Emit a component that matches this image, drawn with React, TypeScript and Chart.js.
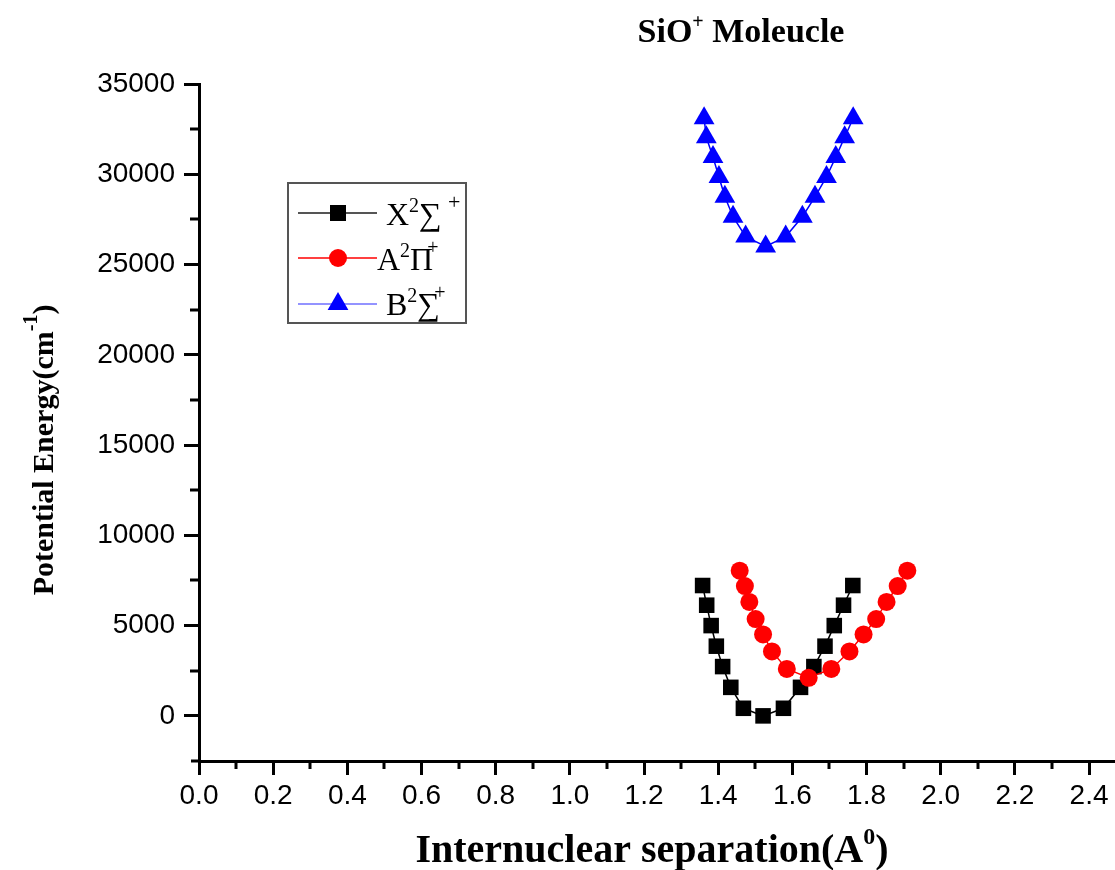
import React, { useEffect, useRef } from 'react';
import { Chart, registerables } from 'chart.js';

Chart.register(...registerables);

// X²Σ⁺ state
const xStateR = [1.358, 1.369, 1.381, 1.395, 1.412, 1.434, 1.468, 1.521, 1.576, 1.622, 1.658, 1.688, 1.713, 1.738, 1.763];
const xStateE = [7220, 6130, 5000, 3860, 2730, 1580, 420, 0, 420, 1580, 2730, 3860, 5000, 6130, 7220];
// A²Π⁺ state
const aStateR = [1.458, 1.472, 1.484, 1.501, 1.521, 1.545, 1.585, 1.644, 1.705, 1.754, 1.792, 1.826, 1.854, 1.884, 1.910];
const aStateE = [8040, 7190, 6310, 5360, 4510, 3570, 2600, 2110, 2600, 3570, 4510, 5360, 6310, 7190, 8040];
// B²Σ⁺ state
const bStateR = [1.362, 1.368, 1.386, 1.402, 1.418, 1.440, 1.474, 1.528, 1.582, 1.627, 1.661, 1.692, 1.717, 1.741, 1.764];
const bStateE = [33100, 32050, 30950, 29850, 28750, 27650, 26550, 26000, 26550, 27650, 28750, 29850, 30950, 32050, 33100];

const xMajorTicks = [0, 0.2, 0.4, 0.6, 0.8, 1.0, 1.2, 1.4, 1.6, 1.8, 2.0, 2.2, 2.4];
const xMinorTicks = [0.1, 0.3, 0.5, 0.7, 0.9, 1.1, 1.3, 1.5, 1.7, 1.9, 2.1, 2.3];
const yMajorTicks = [0, 5000, 10000, 15000, 20000, 25000, 30000, 35000];
const yMinorTicks = [2500, 7500, 12500, 17500, 22500, 27500, 32500];

const SERIF = '"Liberation Serif", "Times New Roman", serif';
const SANS = '"Liberation Sans", Arial, sans-serif';

type Part = { t: string; size: number; dy?: number; dx?: number; bold?: boolean };

function richWidth(ctx: CanvasRenderingContext2D, parts: Part[]) {
  let w = 0;
  for (const p of parts) {
    ctx.font = `${p.bold ? 'bold ' : ''}${p.size}px ${SERIF}`;
    w += ctx.measureText(p.t).width + (p.dx || 0);
  }
  return w;
}

function drawRich(ctx: CanvasRenderingContext2D, parts: Part[], x: number, y: number, align: 'left' | 'center') {
  let cx = align === 'center' ? x - richWidth(ctx, parts) / 2 : x;
  ctx.textAlign = 'left';
  ctx.textBaseline = 'alphabetic';
  for (const p of parts) {
    ctx.font = `${p.bold ? 'bold ' : ''}${p.size}px ${SERIF}`;
    cx += p.dx || 0;
    ctx.fillText(p.t, cx, y + (p.dy || 0));
    cx += ctx.measureText(p.t).width;
  }
}

const decorPlugin = {
  id: 'decor',
  afterDraw(chart: any) {
    const ctx: CanvasRenderingContext2D = chart.ctx;
    const xs = chart.scales.x;
    const ys = chart.scales.y;
    const area = chart.chartArea;
    ctx.save();
    ctx.fillStyle = '#000';
    ctx.strokeStyle = '#000';
    ctx.lineWidth = 3;
    ctx.beginPath();
    for (const v of xMinorTicks) {
      const px = Math.round(xs.getPixelForValue(v));
      ctx.moveTo(px, area.bottom);
      ctx.lineTo(px, area.bottom + 8);
    }
    for (const v of yMinorTicks) {
      const py = Math.round(ys.getPixelForValue(v));
      ctx.moveTo(area.left - 9, py);
      ctx.lineTo(area.left, py);
    }
    ctx.moveTo(area.left - 8, area.bottom);
    ctx.lineTo(area.left, area.bottom);
    ctx.stroke();

    drawRich(ctx, [
      { t: 'SiO', size: 34, bold: true },
      { t: '+', size: 20, bold: true, dy: -14 },
      { t: ' Moleucle', size: 34, bold: true },
    ], 741, 42, 'center');

    drawRich(ctx, [
      { t: 'Internuclear separation(A', size: 40, bold: true },
      { t: '0', size: 24, bold: true, dy: -18 },
      { t: ')', size: 40, bold: true },
    ], 652, 862, 'center');

    ctx.save();
    ctx.translate(53, 450);
    ctx.rotate(-Math.PI / 2);
    drawRich(ctx, [
      { t: 'Potential Energy(cm', size: 30, bold: true },
      { t: '-1', size: 20, bold: true, dy: -16 },
      { t: ')', size: 30, bold: true },
    ], 0, 0, 'center');
    ctx.restore();

    ctx.lineWidth = 2;
    ctx.strokeStyle = '#555';
    ctx.strokeRect(288, 183, 178, 140);
    const entries = [
      { line: '#555', color: '#000', shape: 'rect', ly: 213, by: 225,
        parts: [{ t: 'X', size: 32 }, { t: '2', size: 20, dy: -13 }, { t: '∑', size: 32 }, { t: '+', size: 22, dy: -16, dx: 6 }] },
      { line: '#ff0000', color: '#ff0000', shape: 'circle', ly: 258, by: 270,
        parts: [{ t: 'A', size: 32, dx: -9 }, { t: '2', size: 20, dy: -13 }, { t: 'Π', size: 32 }, { t: '+', size: 20, dy: -16, dx: -6 }] },
      { line: '#6f6fff', color: '#0000ff', shape: 'triangle', ly: 304, by: 315,
        parts: [{ t: 'B', size: 32 }, { t: '2', size: 20, dy: -13 }, { t: '∑', size: 32 }, { t: '+', size: 20, dy: -16, dx: -6 }] },
    ];
    for (const e of entries) {
      ctx.strokeStyle = e.line;
      ctx.lineWidth = e.shape === 'rect' ? 2 : 1.5;
      ctx.beginPath();
      ctx.moveTo(298, e.ly);
      ctx.lineTo(377, e.ly);
      ctx.stroke();
      ctx.fillStyle = e.color;
      ctx.beginPath();
      if (e.shape === 'rect') {
        ctx.rect(338 - 8, e.ly - 8, 16, 16);
      } else if (e.shape === 'circle') {
        ctx.arc(338, e.ly, 9, 0, Math.PI * 2);
      } else {
        const r = 12;
        ctx.moveTo(338, e.ly - r);
        ctx.lineTo(338 + 0.866 * r, e.ly + 0.5 * r);
        ctx.lineTo(338 - 0.866 * r, e.ly + 0.5 * r);
        ctx.closePath();
      }
      ctx.fill();
      ctx.fillStyle = '#000';
      drawRich(ctx, e.parts as Part[], 386, e.by, 'left');
    }
    ctx.restore();
  },
};

export default function App() {
  const ref = useRef<HTMLCanvasElement | null>(null);
  useEffect(() => {
    if (!ref.current) return;
    const toPts = (xs: number[], ys: number[]) => xs.map((x, i) => ({ x, y: ys[i] }));
    const chart = new Chart(ref.current, {
      type: 'line',
      data: {
        datasets: [
          {
            label: 'X2Σ+',
            data: toPts(xStateR, xStateE),
            borderColor: '#000',
            backgroundColor: '#000',
            borderWidth: 1.5,
            pointStyle: 'rect',
            pointRadius: 11,
            pointBorderWidth: 0,
            order: 2,
          },
          {
            label: 'A2Π+',
            data: toPts(aStateR, aStateE),
            borderColor: '#ff0000',
            backgroundColor: '#ff0000',
            borderWidth: 1.5,
            pointStyle: 'circle',
            pointRadius: 9,
            pointBorderWidth: 0,
            order: 1,
          },
          {
            label: 'B2Σ+',
            data: toPts(bStateR, bStateE),
            borderColor: '#0000ff',
            backgroundColor: '#0000ff',
            borderWidth: 1.5,
            pointStyle: 'triangle',
            pointRadius: 12,
            pointBorderWidth: 0,
            order: 0,
          },
        ],
      },
      options: {
        responsive: false,
        animation: false,
        events: [],
        layout: { autoPadding: false, padding: { top: 84, left: 0, right: 0, bottom: 0 } },
        plugins: { legend: { display: false }, title: { display: false }, tooltip: { enabled: false } },
        elements: { line: { tension: 0 } },
        scales: {
          x: {
            type: 'linear',
            min: 0,
            max: 2.47,
            border: { display: true, color: '#000', width: 3 },
            grid: { drawOnChartArea: false, drawTicks: true, tickLength: 14, color: '#000', lineWidth: 3 },
            ticks: {
              color: '#000',
              padding: 4,
              maxRotation: 0,
              autoSkip: false,
              font: { family: SANS, size: 28 },
              callback: (v: any) => Number(v).toFixed(1),
            },
            afterBuildTicks: (s: any) => { s.ticks = xMajorTicks.map((v) => ({ value: v })); },
            afterFit: (s: any) => { s.height = 109; s.paddingLeft = 0; s.paddingRight = 0; },
          },
          y: {
            type: 'linear',
            min: -2500,
            max: 35000,
            border: { display: true, color: '#000', width: 3 },
            grid: { drawOnChartArea: false, drawTicks: true, tickLength: 15, color: '#000', lineWidth: 3 },
            ticks: {
              color: '#000',
              padding: 9,
              autoSkip: false,
              font: { family: SANS, size: 28 },
              callback: (v: any) => String(v),
            },
            afterBuildTicks: (s: any) => { s.ticks = yMajorTicks.map((v) => ({ value: v })); },
            afterFit: (s: any) => { s.width = 199; s.paddingTop = 0; s.paddingBottom = 0; },
          },
        },
      },
      plugins: [decorPlugin],
    });
    return () => chart.destroy();
  }, []);
  return (
    <div style={{ position: 'absolute', left: 0, top: 0, width: 1115, height: 870, background: '#fff' }}>
      <canvas ref={ref} width={1115} height={870} style={{ display: 'block' }} />
    </div>
  );
}
